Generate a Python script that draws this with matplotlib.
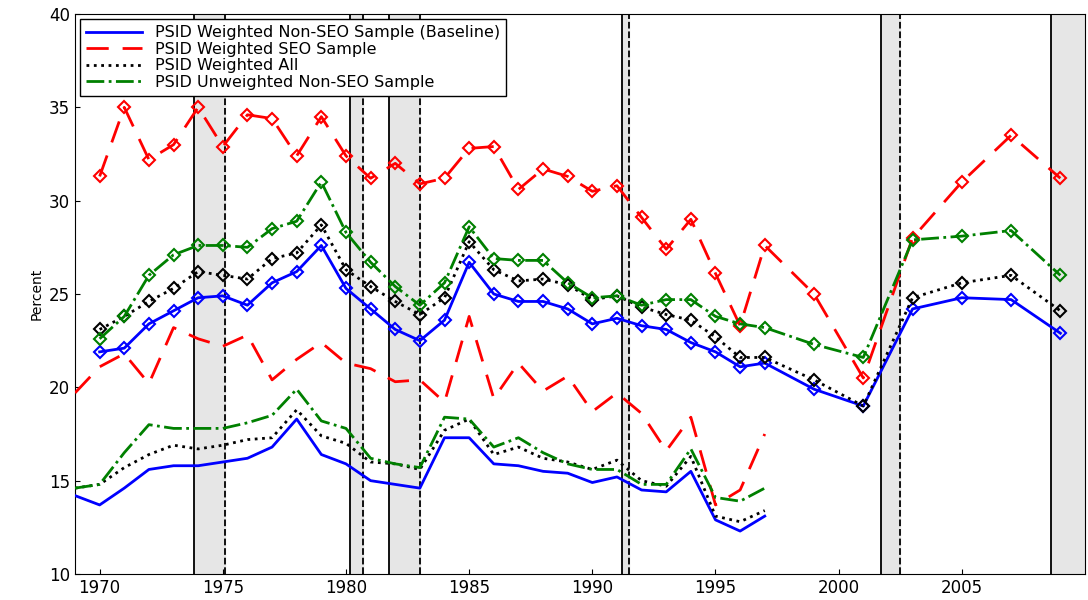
import numpy as np
import matplotlib.pyplot as plt

yrs_up = [1970, 1971, 1972, 1973, 1974, 1975, 1976, 1977, 1978, 1979, 1980, 1981, 1982, 1983, 1984,
          1985, 1986, 1987, 1988, 1989, 1990, 1991, 1992, 1993, 1994, 1995, 1996, 1997, 1999, 2001,
          2003, 2005, 2007, 2009]
blue_up = [21.9, 22.1, 23.4, 24.1, 24.8, 24.9, 24.4, 25.6, 26.2, 27.6, 25.3, 24.2, 23.1, 22.5, 23.6,
           26.7, 25.0, 24.6, 24.6, 24.2, 23.4, 23.7, 23.3, 23.1, 22.4, 21.9, 21.1, 21.3, 19.9, 19.0,
           24.2, 24.8, 24.7, 22.9]
black_up = [23.1, 23.8, 24.6, 25.3, 26.2, 26.0, 25.8, 26.9, 27.2, 28.7, 26.3, 25.4, 24.6, 23.9, 24.8,
            27.8, 26.3, 25.7, 25.8, 25.5, 24.7, 24.9, 24.3, 23.9, 23.6, 22.7, 21.6, 21.6, 20.4, 19.0,
            24.8, 25.6, 26.0, 24.1]
green_up = [22.6, 23.8, 26.0, 27.1, 27.6, 27.6, 27.5, 28.5, 28.9, 31.0, 28.3, 26.7, 25.4, 24.4, 25.6,
            28.6, 26.9, 26.8, 26.8, 25.6, 24.8, 24.9, 24.4, 24.7, 24.7, 23.8, 23.4, 23.2, 22.3, 21.6,
            27.9, 28.1, 28.4, 26.0]
red_up = [31.3, 35.0, 32.2, 33.0, 35.0, 32.9, 34.6, 34.4, 32.4, 34.5, 32.4, 31.2, 32.0, 30.9, 31.2,
          32.8, 32.9, 30.6, 31.7, 31.3, 30.5, 30.8, 29.1, 27.4, 29.0, 26.1, 23.3, 27.6, 25.0, 20.5,
          28.0, 31.0, 33.5, 31.2]

yrs_lo = list(range(1969, 1998))
blue_lo = [14.2, 13.7, 14.6, 15.6, 15.8, 15.8, 16.0, 16.2, 16.8, 18.3, 16.4, 15.9, 15.0, 14.8, 14.6,
           17.3, 17.3, 15.9, 15.8, 15.5, 15.4, 14.9, 15.2, 14.5, 14.4, 15.5, 12.9, 12.3, 13.1]
black_lo = [14.6, 14.8, 15.7, 16.4, 16.9, 16.7, 16.9, 17.2, 17.3, 18.8, 17.4, 17.0, 16.0, 15.9, 15.6,
            17.7, 18.3, 16.4, 16.8, 16.2, 16.0, 15.6, 16.1, 15.0, 14.7, 16.3, 13.1, 12.8, 13.4]
green_lo = [14.6, 14.8, 16.5, 18.0, 17.8, 17.8, 17.8, 18.1, 18.5, 19.9, 18.2, 17.8, 16.2, 15.9, 15.7,
            18.4, 18.3, 16.8, 17.3, 16.5, 15.9, 15.6, 15.6, 14.8, 14.8, 16.7, 14.1, 13.9, 14.6]
red_lo = [19.7, 21.1, 21.8, 20.2, 23.2, 22.6, 22.2, 22.8, 20.4, 21.5, 22.4, 21.3, 21.0, 20.3, 20.4,
          19.2, 23.8, 19.4, 21.3, 19.8, 20.6, 18.7, 19.7, 18.6, 16.6, 18.4, 13.7, 14.5, 17.5]

recessions = [(1973.85, 1975.1), (1980.17, 1980.7), (1981.75, 1983.0),
              (1991.2, 1991.47), (2001.7, 2002.5), (2008.64, 2011)]

fig = plt.figure(figsize=(10.88, 6), dpi=100)
ax = fig.add_axes([75/1088, 26/600, 1010/1088, 560/600])

for a, b in recessions:
    ax.axvspan(a, b, color='#e6e6e6', zorder=0)
    ax.axvline(a, color='k', lw=1.3, zorder=1)
    ax.axvline(b, color='k', lw=1.3, ls='--', zorder=1)

styles = [('b', '-', 'PSID Weighted Non-SEO Sample (Baseline)', blue_up, blue_lo),
          ('r', (0, (8, 5)), 'PSID Weighted SEO Sample', red_up, red_lo),
          ('k', ':', 'PSID Weighted All', black_up, black_lo),
          ('g', '-.', 'PSID Unweighted Non-SEO Sample', green_up, green_lo)]
for c, ls, lab, up, lo in styles:
    ax.plot(yrs_up, up, color=c, ls=ls, lw=2, marker='D', mfc='none', mec=c, ms=6, mew=1.5,
            label=lab, zorder=3)
    ax.plot(yrs_lo, lo, color=c, ls=ls, lw=2, zorder=3)

# legend uses lines only
h = [plt.Line2D([], [], color=c, ls=ls, lw=2) for c, ls, _, _, _ in styles]
leg = ax.legend(h, [s[2] for s in styles], loc='upper left', fontsize=11.5, frameon=True,
                fancybox=False, edgecolor='k', framealpha=1, borderaxespad=0.3, labelspacing=0.1,
                handlelength=3.5)
leg.get_frame().set_linewidth(1)

ax.set_xlim(1969, 2010)
ax.set_ylim(10, 40)
ax.set_xticks([1970, 1975, 1980, 1985, 1990, 1995, 2000, 2005])
ax.set_yticks([10, 15, 20, 25, 30, 35, 40])
ax.tick_params(labelsize=12, direction='in')
ax.set_ylabel('Percent', fontsize=10)
fig.savefig('out.png')
